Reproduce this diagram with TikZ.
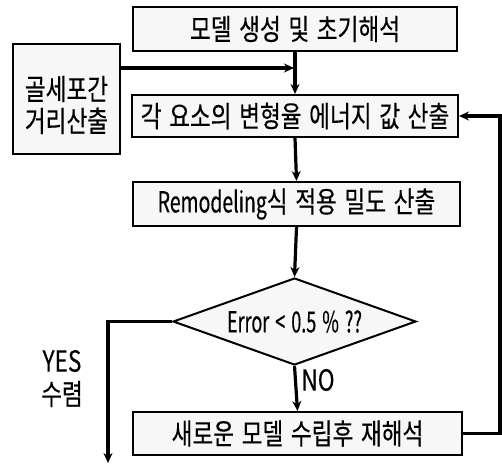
\documentclass[tikz,border=0pt]{standalone}
\usepackage{fontspec}
\setmainfont{Noto Sans CJK KR}[FakeStretch=0.78,FakeBold=0.3,WordSpace=1.5]
\newfontfamily\latn{Noto Sans CJK KR}[FakeStretch=0.67,FakeBold=0.3]
\newfontfamily\latnb{Noto Sans CJK KR}[FakeStretch=0.62,FakeBold=0.3,WordSpace=1.5]
\usetikzlibrary{arrows.meta,shapes.geometric}
\begin{document}
\begin{tikzpicture}[x=1pt,y=-1pt,
  box/.style={draw, line width=2pt, fill=black!3, inner sep=0pt, font=\fontsize{29}{32}\selectfont},
  conn/.style={line width=3.2pt, -{Stealth[length=10pt,width=9pt]}},
  lbl/.style={inner sep=0pt, font=\fontsize{29}{32}\selectfont}]
\useasboundingbox (0,0) rectangle (502,464);
\node[box, minimum width=324pt, minimum height=44pt] (b1) at (295,29) {모델 생성 및 초기해석};
\node[box, minimum width=326pt, minimum height=42pt] (b2) at (295,116) {각 요소의 변형율 에너지 값 산출};
\node[box, minimum width=327pt, minimum height=44pt] (b3) at (296.5,204) {{\latn Remodeling}식 적용 밀도 산출};
\node[box, minimum width=329pt, minimum height=43pt] (b4) at (297.5,433.5) {새로운 모델 수립후 재해석};
\node[box, minimum width=107pt, minimum height=110pt] (left) at (66.5,99) {};
\node[lbl, align=center, font=\fontsize{29}{32}\selectfont] (lefttext) at (66.5,105) {골세포간\\거리산출};
\node[draw, diamond, line width=2pt, fill=black!3, inner sep=0pt, aspect=2.79, minimum width=243pt, minimum height=87pt, font=\fontsize{29}{32}\selectfont\latnb] (dia) at (294.5,321.5) {Error < 0.5 \% ??};
\node[lbl] (yes) at (62,361) {YES};
\node[lbl] (sr) at (62,394) {수렴};
\node[lbl] (no) at (318,380) {NO};
\coordinate (rx) at (500,0);
\coordinate (yesend) at (108,463);
\coordinate (hy) at (0,68);
\draw[conn] (b1.south) -- (b2.north);
\draw[conn] (left.east |- hy) -- ([xshift=-1pt]b1.south |- hy);
\draw[conn] (b2.south) -- (b3.north);
\draw[conn] (b3.south) -- (dia.north);
\draw[conn] (dia.south) -- (b4.north);
\draw[conn] (b4.east) -- (b4.east -| rx) -- (b2.east -| rx) -- (b2.east);
\draw[conn] (dia.west) -| (yesend);
\end{tikzpicture}
\end{document}
